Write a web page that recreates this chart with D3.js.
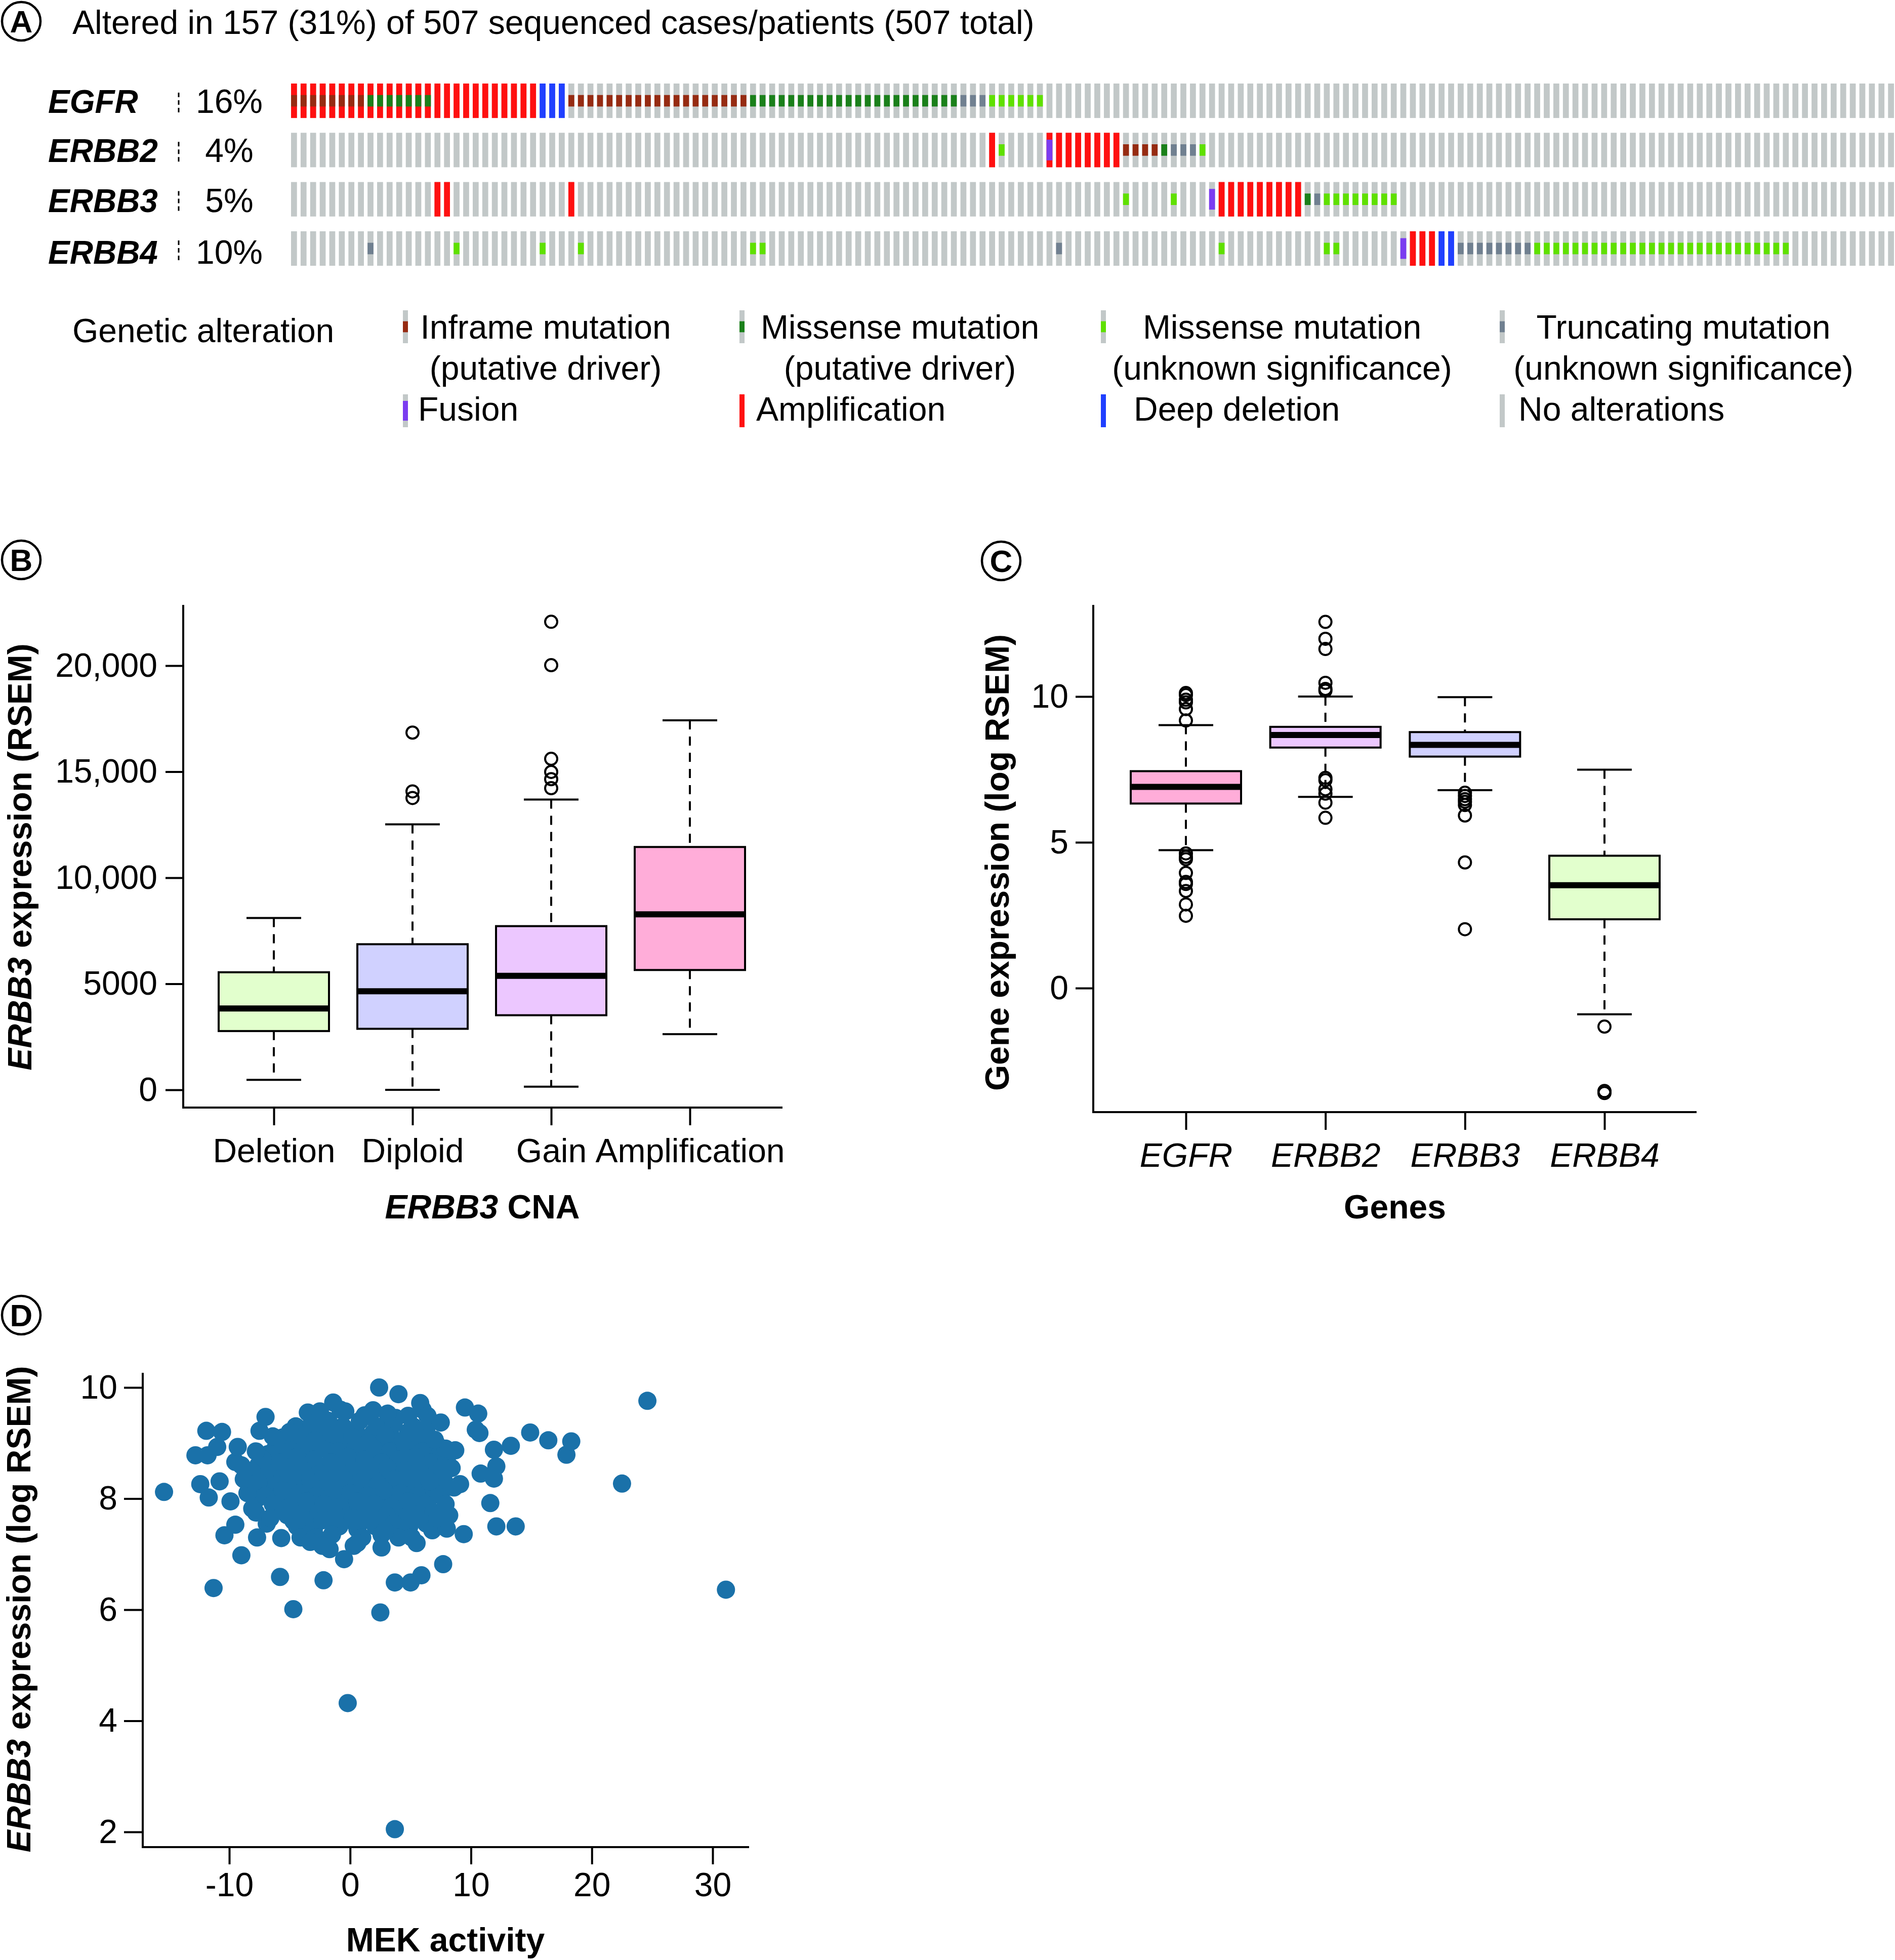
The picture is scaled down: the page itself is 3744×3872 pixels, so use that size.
<!DOCTYPE html>
<html><head><meta charset="utf-8">
<script src="https://cdn.jsdelivr.net/npm/d3@7"></script>
<style>
body{margin:0;background:#fff}
svg{display:block}
text{font-family:"Liberation Sans",Arial,Helvetica,sans-serif;fill:#000}
</style>
</head><body>
<svg id="c" width="3744" height="3872"></svg>
<script>
// ---------------- DATA ----------------
// Panel A: oncoprint
const oncoTitle = "Altered in 157 (31%) of 507 sequenced cases/patients (507 total)";
const oncoGenes = ["EGFR", "ERBB2", "ERBB3", "ERBB4"];
const oncoPercents = ["16%", "4%", "5%", "10%"];
const oncoSampleCount = 168;
// [firstSample, lastSample, alterationType]
const egfrEvents = [[0,25,"amp"],[26,28,"homdel"],[0,7,"inframe"],[8,14,"missenseDriver"],[29,47,"inframe"],[48,69,"missenseDriver"],[70,72,"truncVus"],[73,78,"missenseVus"]];
const erbb2Events = [[73,73,"amp"],[74,74,"missenseVus"],[79,86,"amp"],[79,79,"fusion"],[87,90,"inframe"],[91,91,"missenseDriver"],[92,94,"truncVus"],[95,95,"missenseVus"]];
const erbb3Events = [[15,16,"amp"],[29,29,"amp"],[87,87,"missenseVus"],[92,92,"missenseVus"],[96,96,"fusion"],[97,105,"amp"],[106,106,"missenseDriver"],[107,107,"truncVus"],[108,115,"missenseVus"]];
const erbb4Events = [[8,8,"truncVus"],[17,17,"missenseVus"],[26,26,"missenseVus"],[30,30,"missenseVus"],[48,49,"missenseVus"],[80,80,"truncVus"],[97,97,"missenseVus"],[108,109,"missenseVus"],[116,116,"fusion"],[117,119,"amp"],[120,121,"homdel"],[122,129,"truncVus"],[130,156,"missenseVus"]];
const oncoEvents = [egfrEvents, erbb2Events, erbb3Events, erbb4Events];
const alterationTypes = ["inframe","missenseDriver","missenseVus","truncVus","fusion","amp","homdel","none"];
const alterationColors = ["#962b12","#1a801a","#5fe000","#708090","#7b3cf0","#ff1010","#2040ff","#c2c8c8"];
const alterationLabels = [["Inframe mutation","(putative driver)"],["Missense mutation","(putative driver)"],["Missense mutation","(unknown significance)"],["Truncating mutation","(unknown significance)"],["Fusion"],["Amplification"],["Deep deletion"],["No alterations"]];
const legendTitle = "Genetic alteration";

// Panel B: ERBB3 expression by ERBB3 CNA
const cnaCategories = ["Deletion","Diploid","Gain","Amplification"];
const cnaLow = [469, 0, 149, 2623];
const cnaQ1 = [2772, 2878, 3518, 5650];
const cnaMedian = [3838, 4648, 5373, 8273];
const cnaQ3 = [5544, 6866, 7719, 11450];
const cnaHigh = [8102, 12516, 13689, 17420];
const cnaOutliers = [[], [16844, 14072, 13760], [22068, 20021, 15608, 14989, 14648, 14222], []];
const cnaFills = ["#e2ffcd","#d0d1ff","#ecc7ff","#ffadd9"];
const cnaYTicks = [0, 5000, 10000, 15000, 20000];
const cnaYTickLabels = ["0","5000","10,000","15,000","20,000"];

// Panel C: gene expression of four genes
const geneNames = ["EGFR","ERBB2","ERBB3","ERBB4"];
const geneLow = [4.73, 6.56, 6.79, -0.90];
const geneQ1 = [6.33, 8.25, 7.94, 2.36];
const geneMedian = [6.90, 8.68, 8.34, 3.53];
const geneQ3 = [7.44, 8.96, 8.78, 4.54];
const geneHigh = [9.02, 10.0, 9.98, 7.49];
const geneOutliers = [
  [10.12,10.05,9.89,9.80,9.57,9.18,4.62,4.50,4.42,3.95,3.64,3.57,3.33,2.87,2.48],
  [12.56,11.98,11.63,10.47,10.26,10.20,7.21,7.13,6.82,6.67,6.36,5.84],
  [6.70,6.59,6.48,6.39,6.28,5.92,4.31,2.02],
  [-1.32,-3.53,-3.60]
];
const geneFills = ["#ffadd9","#ecc7ff","#d0d1ff","#e2ffcd"];
const geneYTicks = [0, 5, 10];

// Panel D: MEK activity vs ERBB3 expression [MEK activity, log RSEM]
const mekOuterPoints = [
  [-15.4,8.12],[-12.8,8.78],[-11.9,9.22],[-10.6,9.20],[-12.4,8.26],[-11.7,8.02],[-11.8,8.78],[-11.0,8.93],
  [-10.8,8.31],[-9.9,7.95],[-9.5,8.66],[-9.3,8.93],[-10.4,7.34],[-9.5,7.53],[-9.0,6.98],[-11.3,6.39],
  [-7.7,7.30],[-8.1,7.82],[-7.8,8.85],[-7.5,9.22],[-7.0,9.47],[-6.4,9.12],[-6.6,7.65],[-5.7,7.29],
  [-5.8,6.59],[-4.7,6.01],[-4.1,7.30],[-3.3,7.22],[-2.3,7.61],[-2.3,7.15],[-1.7,7.09],[-2.2,6.53],
  [-1.4,9.73],[-2.5,9.57],[-0.4,9.57],[-0.5,6.91],[-0.2,4.32],[0.6,7.20],[1.9,9.59],[2.4,10.0],
  [3.1,9.53],[4.0,9.88],[2.5,5.95],[2.6,7.12],[2.9,7.42],[3.7,6.49],[5.0,6.49],[5.9,6.62],
  [3.7,2.05],[5.1,7.30],[5.8,9.72],[4.8,9.49],[6.4,9.49],[7.5,9.37],[7.7,6.82],[7.0,9.06],
  [6.8,7.43],[8.0,7.46],[8.7,8.87],[9.1,8.26],[9.4,7.36],[9.5,9.64],[10.6,9.53],[10.4,9.24],
  [10.7,9.18],[10.8,8.45],[11.6,7.92],[11.9,8.88],[12.1,8.58],[11.9,8.36],[12.1,7.50],[13.3,8.95],
  [13.7,7.50],[14.9,9.19],[16.4,9.05],[17.9,8.79],[18.3,9.03],[22.5,8.27],[24.6,9.76],[31.1,6.36],
  [7.6,8.54],[7.9,7.90],[7.2,7.65],[6.6,8.31]
];
const mekCorePoints = [
  [-4.5,9.3],[-3.2,9.35],[-1.8,9.4],[-0.6,9.3],[0.8,9.4],[2.2,9.3],[3.6,9.35],[5.2,9.3],[6.3,9.25],
  [-5.6,9.1],[-4.2,9.15],[-2.9,9.05],[-1.3,9.15],[0.2,9.1],[1.5,9.0],[2.9,9.15],[4.4,9.05],[5.8,9.1],[7.1,9.0],
  [-6.2,8.9],[-5.0,8.85],[-3.7,8.95],[-2.4,8.9],[-1.0,8.85],[0.5,8.95],[1.9,8.9],[3.3,8.85],[4.6,8.9],[6.0,8.85],[7.4,8.8],
  [-7.2,8.7],[-5.8,8.65],[-4.4,8.75],[-3.0,8.7],[-1.6,8.65],[-0.2,8.75],[1.2,8.7],[2.6,8.65],[4.0,8.7],[5.4,8.75],[6.7,8.65],[8.0,8.7],
  [-8.2,8.5],[-6.8,8.45],[-5.3,8.55],[-3.9,8.5],[-2.5,8.45],[-1.1,8.55],[0.3,8.5],[1.7,8.45],[3.1,8.55],[4.5,8.5],[5.9,8.45],[7.2,8.5],[8.4,8.55],
  [-7.6,8.3],[-6.1,8.25],[-4.7,8.35],[-3.3,8.3],[-1.9,8.25],[-0.5,8.35],[0.9,8.3],[2.3,8.25],[3.7,8.35],[5.1,8.3],[6.5,8.25],[7.8,8.3],
  [-8.5,8.1],[-7.0,8.05],[-5.6,8.15],[-4.2,8.1],[-2.8,8.05],[-1.4,8.15],[0.0,8.1],[1.4,8.05],[2.8,8.15],[4.2,8.1],[5.6,8.05],[7.0,8.1],
  [-6.4,7.9],[-5.0,7.85],[-3.6,7.95],[-2.2,7.9],[-0.8,7.85],[0.6,7.95],[2.0,7.9],[3.4,7.85],[4.8,7.95],[6.2,7.9],
  [-5.2,7.7],[-3.8,7.65],[-2.6,7.75],[-1.2,7.7],[0.2,7.65],[1.6,7.75],[3.0,7.7],[4.4,7.65],[5.8,7.7],[6.9,7.75],
  [-4.4,7.5],[-3.0,7.45],[-0.9,7.5],[0.6,7.45],[2.1,7.5],[3.6,7.55],[4.9,7.5],[6.3,7.55],
  [-3.5,9.55],[-0.8,9.6],[1.2,9.5],[3.8,9.45],[6.0,9.6],[-5.0,9.2],[7.9,8.9],[8.6,8.2],[-8.8,8.35],[-9.0,8.6],
  [-7.8,7.75],[-6.9,7.55],[8.2,7.7],[1.0,7.3],[-1.5,7.35],[4.0,7.3],[0.3,7.15],[-2.8,7.3],[5.5,7.2],[2.6,7.35]
];
const mekDenseCorePoints = [
  [-3.8,9.2],[-2.3,9.2],[-0.9,9.22],[0.5,9.2],[1.9,9.18],[3.3,9.22],[4.8,9.2],
  [-5.0,9.0],[-3.5,9.0],[-2.0,8.98],[-0.5,9.02],[0.9,9.0],[2.3,8.98],[3.7,9.0],[5.1,9.02],[6.5,9.0],
  [-6.8,8.8],[-5.4,8.8],[-3.0,8.82],[-1.5,8.8],[0.0,8.78],[1.5,8.8],[3.0,8.82],[4.4,8.8],[5.8,8.78],[7.0,8.8],
  [-7.6,8.6],[-6.3,8.6],[-4.9,8.62],[-3.5,8.6],[-2.1,8.58],[-0.7,8.6],[0.7,8.62],[2.1,8.6],[3.5,8.58],[4.9,8.6],[6.3,8.62],[7.6,8.6],
  [-8.0,8.4],[-6.5,8.4],[-5.1,8.42],[-3.7,8.4],[-2.3,8.38],[-0.9,8.4],[0.5,8.42],[1.9,8.4],[3.3,8.38],[4.7,8.4],[6.1,8.42],[7.4,8.4],
  [-7.3,8.2],[-5.9,8.2],[-4.5,8.22],[-3.1,8.2],[-1.7,8.18],[-0.3,8.2],[1.1,8.22],[2.5,8.2],[3.9,8.18],[5.3,8.2],[6.7,8.22],[8.0,8.2],
  [-7.7,8.0],[-6.0,8.0],[-4.6,8.02],[-3.2,8.0],[-1.8,7.98],[-0.4,8.0],[1.0,8.02],[2.4,8.0],[3.8,7.98],[5.2,8.0],[6.6,8.02],
  [-5.7,7.8],[-4.3,7.8],[-2.9,7.82],[-1.5,7.8],[-0.1,7.78],[1.3,7.8],[2.7,7.82],[4.1,7.8],[5.5,7.78],
  [-4.7,7.6],[-3.3,7.6],[-1.9,7.62],[-0.5,7.6],[0.9,7.58],[2.3,7.6],[3.7,7.62],[5.1,7.6]
];
const mekXTicks = [-10, 0, 10, 20, 30];
const mekXTickLabels = ["-10","0","10","20","30"];
const mekYTicks = [2, 4, 6, 8, 10];

// ---------------- DRAWING ----------------
const svg = d3.select("#c");
const FS = 66;
const STROKE = 4;

function panelLabel(cx, cy, letter) {
  svg.append("circle").attr("cx", cx).attr("cy", cy).attr("r", 38)
    .attr("fill", "#fff").attr("stroke", "#000").attr("stroke-width", 4.5);
  svg.append("text").attr("x", cx).attr("y", cy + 22).attr("text-anchor", "middle")
    .attr("font-size", 62).attr("font-weight", "bold").text(letter);
}

// ===== Panel A =====
panelLabel(42, 42, "A");
svg.append("text").attr("x", 143).attr("y", 67).attr("font-size", FS).text(oncoTitle);

const xS = d3.scaleBand().domain(d3.range(oncoSampleCount)).range([575, 3742]).paddingInner(0.38).paddingOuter(0);
const yS = d3.scaleBand().domain(oncoGenes).range([165, 525]).paddingInner(0.3);
const colorOf = d3.scaleOrdinal().domain(alterationTypes).range(alterationColors);
const layerOf = t => (t === "amp" || t === "homdel") ? 0 : (t === "fusion" ? 1 : 2);

function glyph(g, x, y, w, h, type) {
  if (type === "amp" || type === "homdel" || type === "none") {
    g.append("rect").attr("x", x).attr("y", y).attr("width", w).attr("height", h).attr("fill", colorOf(type));
  } else if (type === "fusion") {
    g.append("rect").attr("x", x).attr("y", y + h * 0.2).attr("width", w).attr("height", h * 0.6).attr("fill", colorOf(type));
  } else {
    g.append("rect").attr("x", x).attr("y", y + h / 3).attr("width", w).attr("height", h / 3).attr("fill", colorOf(type));
  }
}

const onco = svg.append("g");
const labelDy = [24, 24, 25, 30];
oncoGenes.forEach((gene, gi) => {
  const y0 = yS(gene), h = yS.bandwidth();
  onco.append("text").attr("x", 95).attr("y", y0 + h / 2 + labelDy[gi]).attr("font-size", 64)
    .attr("font-weight", "bold").attr("font-style", "italic").text(gene);
  onco.append("line").attr("x1", 353).attr("x2", 353).attr("y1", y0 + 18).attr("y2", y0 + h - 10)
    .attr("stroke", "#000").attr("stroke-width", 3).attr("stroke-dasharray", "9,6");
  onco.append("text").attr("x", 453).attr("y", y0 + h / 2 + labelDy[gi]).attr("font-size", FS)
    .attr("text-anchor", "middle").text(oncoPercents[gi]);
  onco.selectAll(null).data(d3.range(oncoSampleCount)).enter().append("rect")
    .attr("x", d => xS(d)).attr("y", y0).attr("width", xS.bandwidth()).attr("height", h)
    .attr("fill", colorOf("none"));
  const cells = [];
  oncoEvents[gi].forEach(([a, b, t]) => { for (let s = a; s <= b; s++) cells.push({ s, t }); });
  cells.sort((p, q) => layerOf(p.t) - layerOf(q.t));
  cells.forEach(c => glyph(onco, xS(c.s), y0, xS.bandwidth(), h, c.t));
});

// legend
svg.append("text").attr("x", 143).attr("y", 676).attr("font-size", FS).text(legendTitle);
const legendMarkerX = [796, 1461, 2175, 2963];
const legendLine1Center = [1078, 1778, 2533, 3326];
const legendRow3X = [826, 1494, 2240, 3000];
const lg = svg.append("g");
alterationLabels.forEach((lab, i) => {
  const col = i % 4, row = Math.floor(i / 4);
  const my = row === 0 ? 613 : 779;
  glyph(lg, legendMarkerX[col], my, 10, 65, "none");
  if (alterationTypes[i] !== "none") glyph(lg, legendMarkerX[col], my, 10, 65, alterationTypes[i]);
  if (row === 0) {
    lg.append("text").attr("x", legendLine1Center[col]).attr("y", 669).attr("text-anchor", "middle")
      .attr("font-size", FS).text(lab[0]);
    lg.append("text").attr("x", legendLine1Center[col]).attr("y", 750).attr("text-anchor", "middle")
      .attr("font-size", FS).text(lab[1]);
  } else {
    lg.append("text").attr("x", legendRow3X[col]).attr("y", 831).attr("font-size", FS).text(lab[0]);
  }
});

// ===== helpers for R-like axes =====
function styleAxis(sel) {
  sel.select(".domain").remove();
  sel.selectAll("line").attr("stroke", "#000").attr("stroke-width", STROKE);
  sel.selectAll("text").attr("font-size", FS).attr("fill", "#000")
    .attr("font-family", "Liberation Sans, Arial, sans-serif");
  sel.attr("font-size", null).attr("font-family", null);
}

function drawBoxes(g, x, y, cats, lo, q1, med, q3, hi, outs, fills) {
  const bw = 218, cw = 108;
  cats.forEach((c, i) => {
    const cx = x(c);
    g.append("line").attr("x1", cx).attr("x2", cx).attr("y1", y(hi[i])).attr("y2", y(q3[i]))
      .attr("stroke", "#000").attr("stroke-width", STROKE).attr("stroke-dasharray", "18,14");
    g.append("line").attr("x1", cx).attr("x2", cx).attr("y1", y(q1[i])).attr("y2", y(lo[i]))
      .attr("stroke", "#000").attr("stroke-width", STROKE).attr("stroke-dasharray", "18,14");
    [hi[i], lo[i]].forEach(v => g.append("line").attr("x1", cx - cw / 2).attr("x2", cx + cw / 2)
      .attr("y1", y(v)).attr("y2", y(v)).attr("stroke", "#000").attr("stroke-width", STROKE));
    g.append("rect").attr("x", cx - bw / 2).attr("y", y(q3[i])).attr("width", bw)
      .attr("height", y(q1[i]) - y(q3[i])).attr("fill", fills[i]).attr("stroke", "#000").attr("stroke-width", STROKE);
    g.append("line").attr("x1", cx - bw / 2).attr("x2", cx + bw / 2).attr("y1", y(med[i])).attr("y2", y(med[i]))
      .attr("stroke", "#000").attr("stroke-width", 12);
    g.selectAll(null).data(outs[i]).enter().append("circle")
      .attr("cx", cx).attr("cy", d => y(d)).attr("r", 12)
      .attr("fill", "none").attr("stroke", "#000").attr("stroke-width", STROKE);
  });
}

function frame(g, x0, yTop, y0, xRight) {
  g.append("path").attr("d", `M${x0},${yTop}V${y0}H${xRight}`).attr("fill", "none")
    .attr("stroke", "#000").attr("stroke-width", STROKE);
}

// ===== Panel B =====
panelLabel(42, 1106, "B");
const gB = svg.append("g");
const xB = d3.scalePoint().domain(cnaCategories).range([541, 1363]);
const yB = d3.scaleLinear().domain([0, 20000]).range([2153, 1315]);
drawBoxes(gB, xB, yB, cnaCategories, cnaLow, cnaQ1, cnaMedian, cnaQ3, cnaHigh, cnaOutliers, cnaFills);
frame(gB, 362, 1195, 2188, 1546);
gB.append("g").attr("transform", "translate(362,0)")
  .call(d3.axisLeft(yB).tickValues(cnaYTicks).tickFormat((d, i) => cnaYTickLabels[i]).tickSize(35).tickPadding(16))
  .call(styleAxis);
gB.append("g").attr("transform", "translate(0,2188)")
  .call(d3.axisBottom(xB).tickSize(35).tickPadding(26))
  .call(styleAxis);
gB.append("text").attr("x", 953).attr("y", 2407).attr("text-anchor", "middle").attr("font-size", FS)
  .attr("font-weight", "bold")
  .call(t => { t.append("tspan").attr("font-style", "italic").text("ERBB3"); t.append("tspan").text(" CNA"); });
gB.append("text").attr("transform", "translate(62,1693) rotate(-90)").attr("text-anchor", "middle")
  .attr("font-size", FS).attr("font-weight", "bold")
  .call(t => { t.append("tspan").attr("font-style", "italic").text("ERBB3"); t.append("tspan").text(" expression (RSEM)"); });

// ===== Panel C =====
panelLabel(1978, 1108, "C");
const gC = svg.append("g");
const xC = d3.scalePoint().domain(geneNames).range([2343, 3170]);
const yC = d3.scaleLinear().domain([0, 10]).range([1952, 1376]);
drawBoxes(gC, xC, yC, geneNames, geneLow, geneQ1, geneMedian, geneQ3, geneHigh, geneOutliers, geneFills);
frame(gC, 2160, 1195, 2197, 3352);
gC.append("g").attr("transform", "translate(2160,0)")
  .call(d3.axisLeft(yC).tickValues(geneYTicks).tickFormat(d3.format("d")).tickSize(35).tickPadding(14))
  .call(styleAxis);
gC.append("g").attr("transform", "translate(0,2197)")
  .call(d3.axisBottom(xC).tickSize(35).tickPadding(26))
  .call(styleAxis)
  .call(g => g.selectAll("text").attr("font-style", "italic"));
gC.append("text").attr("x", 2756).attr("y", 2407).attr("text-anchor", "middle").attr("font-size", FS)
  .attr("font-weight", "bold").text("Genes");
gC.append("text").attr("transform", "translate(1993,1704) rotate(-90)").attr("text-anchor", "middle")
  .attr("font-size", FS).attr("font-weight", "bold").text("Gene expression (log RSEM)");

// ===== Panel D =====
panelLabel(42, 2598, "D");
const gD = svg.append("g");
const xD = d3.scaleLinear().domain([-10, 30]).range([453, 1408]);
const yD = d3.scaleLinear().domain([2, 10]).range([3619, 2741]);
gD.selectAll(null).data(mekDenseCorePoints.concat(mekCorePoints, mekOuterPoints)).enter().append("circle")
  .attr("cx", d => xD(d[0])).attr("cy", d => yD(d[1])).attr("r", 18).attr("fill", "#1a71a9");
frame(gD, 282, 2712, 3649, 1480);
gD.append("g").attr("transform", "translate(282,0)")
  .call(d3.axisLeft(yD).tickValues(mekYTicks).tickFormat(d3.format("d")).tickSize(37).tickPadding(13))
  .call(styleAxis);
gD.append("g").attr("transform", "translate(0,3649)")
  .call(d3.axisBottom(xD).tickValues(mekXTicks).tickFormat((d, i) => mekXTickLabels[i]).tickSize(34).tickPadding(16))
  .call(styleAxis);
gD.append("text").attr("x", 880).attr("y", 3855).attr("text-anchor", "middle").attr("font-size", FS)
  .attr("font-weight", "bold").text("MEK activity");
gD.append("text").attr("transform", "translate(60,3179) rotate(-90)").attr("text-anchor", "middle")
  .attr("font-size", FS).attr("font-weight", "bold")
  .call(t => { t.append("tspan").attr("font-style", "italic").text("ERBB3"); t.append("tspan").text(" expression (log RSEM)"); });
</script>
</body></html>
